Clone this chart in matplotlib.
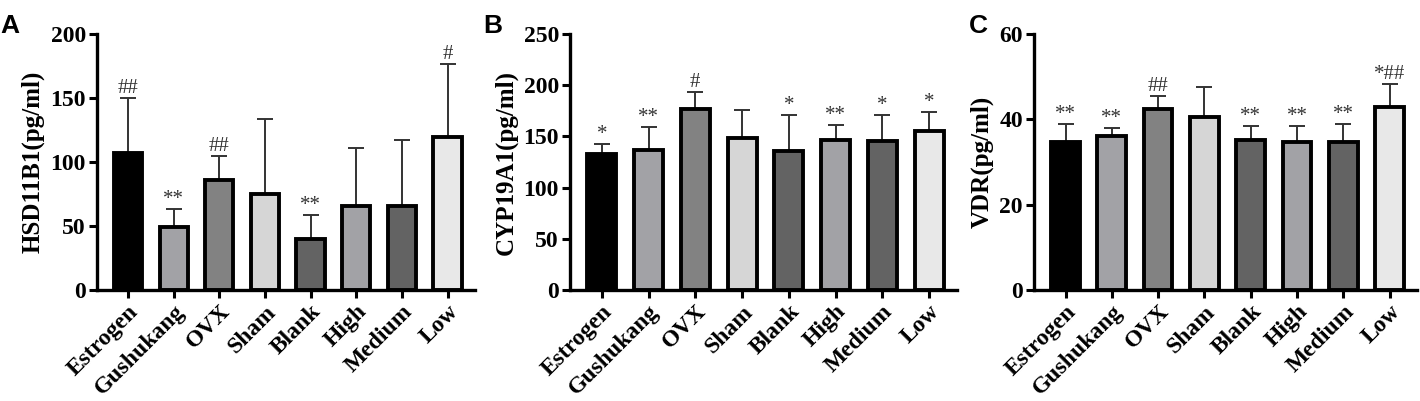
import numpy as np
import matplotlib.pyplot as plt

groups = ['Estrogen', 'Gushukang', 'OVX', 'Sham', 'Blank', 'High', 'Medium', 'Low']
colors = ['#000000', '#a2a2a6', '#828282', '#d6d6d6', '#636363', '#a2a2a6', '#636363', '#e8e8e8']

# means and upper error bar ends (pg/ml)
hsd_mean = [107.3, 49.5, 86.0, 75.0, 39.6, 65.6, 65.6, 119.8]
hsd_top = [149.7, 63.0, 104.7, 134.0, 58.3, 111.0, 117.4, 176.3]
hsd_sig = ['##', '**', '##', '', '**', '', '', '#']

cyp_mean = [133.0, 137.0, 176.8, 148.0, 135.7, 147.0, 146.0, 155.0]
cyp_top = [143.0, 159.5, 193.0, 176.0, 170.6, 161.5, 171.0, 174.0]
cyp_sig = ['*', '**', '#', '', '*', '**', '*', '*']

vdr_mean = [34.8, 36.1, 42.5, 40.5, 35.2, 34.8, 34.6, 42.8]
vdr_top = [39.0, 38.0, 45.5, 47.6, 38.4, 38.4, 39.0, 48.4]
vdr_sig = ['**', '**', '##', '', '**', '**', '**', '*##']

panels = [
    ('A', 0.000, 'HSD11B1(pg/ml)', hsd_mean, hsd_top, hsd_sig, 200, 50, [0.0683, 0.2768, 0.2662, 0.6382]),
    ('B', 0.340, 'CYP19A1(pg/ml)', cyp_mean, cyp_top, cyp_sig, 250, 50, [0.4014, 0.2768, 0.2726, 0.6382]),
    ('C', 0.682, 'VDR(pg/ml)', vdr_mean, vdr_top, vdr_sig, 60, 20, [0.7282, 0.2768, 0.2700, 0.6382]),
]

serif = 'Liberation Serif'
fig = plt.figure(figsize=(14.2, 4.01), dpi=100)

for letter, lx, ylabel, mean, top, sig, ymax, step, pos in panels:
    ax = fig.add_axes(pos)
    x = np.arange(len(groups))
    err = np.array(top) - np.array(mean)
    ax.bar(x, mean, width=0.62, color=colors, edgecolor='black', linewidth=2.8, zorder=2)
    ax.errorbar(x, mean, yerr=[np.zeros(len(x)), err], fmt='none', ecolor='#333333',
                elinewidth=1.4, capsize=6, capthick=1.4, zorder=1)
    for xi, t, s in zip(x, top, sig):
        if s:
            ax.text(xi, t, s, ha='center', va='bottom', fontsize=15,
                    family=serif, color='#333333')
    ax.set_xlim(-0.68, 7.6)
    ax.set_ylim(0, ymax)
    ax.set_yticks(np.arange(0, ymax + 1, step))
    ax.set_xticks(x)
    ax.set_xticklabels(groups, rotation=45, ha='right', rotation_mode='anchor',
                       fontsize=17, fontweight='bold', family=serif)
    for lab in ax.get_yticklabels():
        lab.set_fontsize(17)
        lab.set_fontweight('bold')
        lab.set_family(serif)
    ax.set_ylabel(ylabel, fontsize=18, fontweight='bold', family=serif, labelpad=4)
    ax.spines['top'].set_visible(False)
    ax.spines['right'].set_visible(False)
    for sp in ('left', 'bottom'):
        ax.spines[sp].set_linewidth(2.4)
    ax.tick_params(axis='both', direction='out', length=6, width=2.2, pad=2)
    fig.text(lx, 0.965, letter, fontsize=19, fontweight='bold',
             family='Liberation Sans', va='top')

fig.savefig('out.png', dpi=100)
